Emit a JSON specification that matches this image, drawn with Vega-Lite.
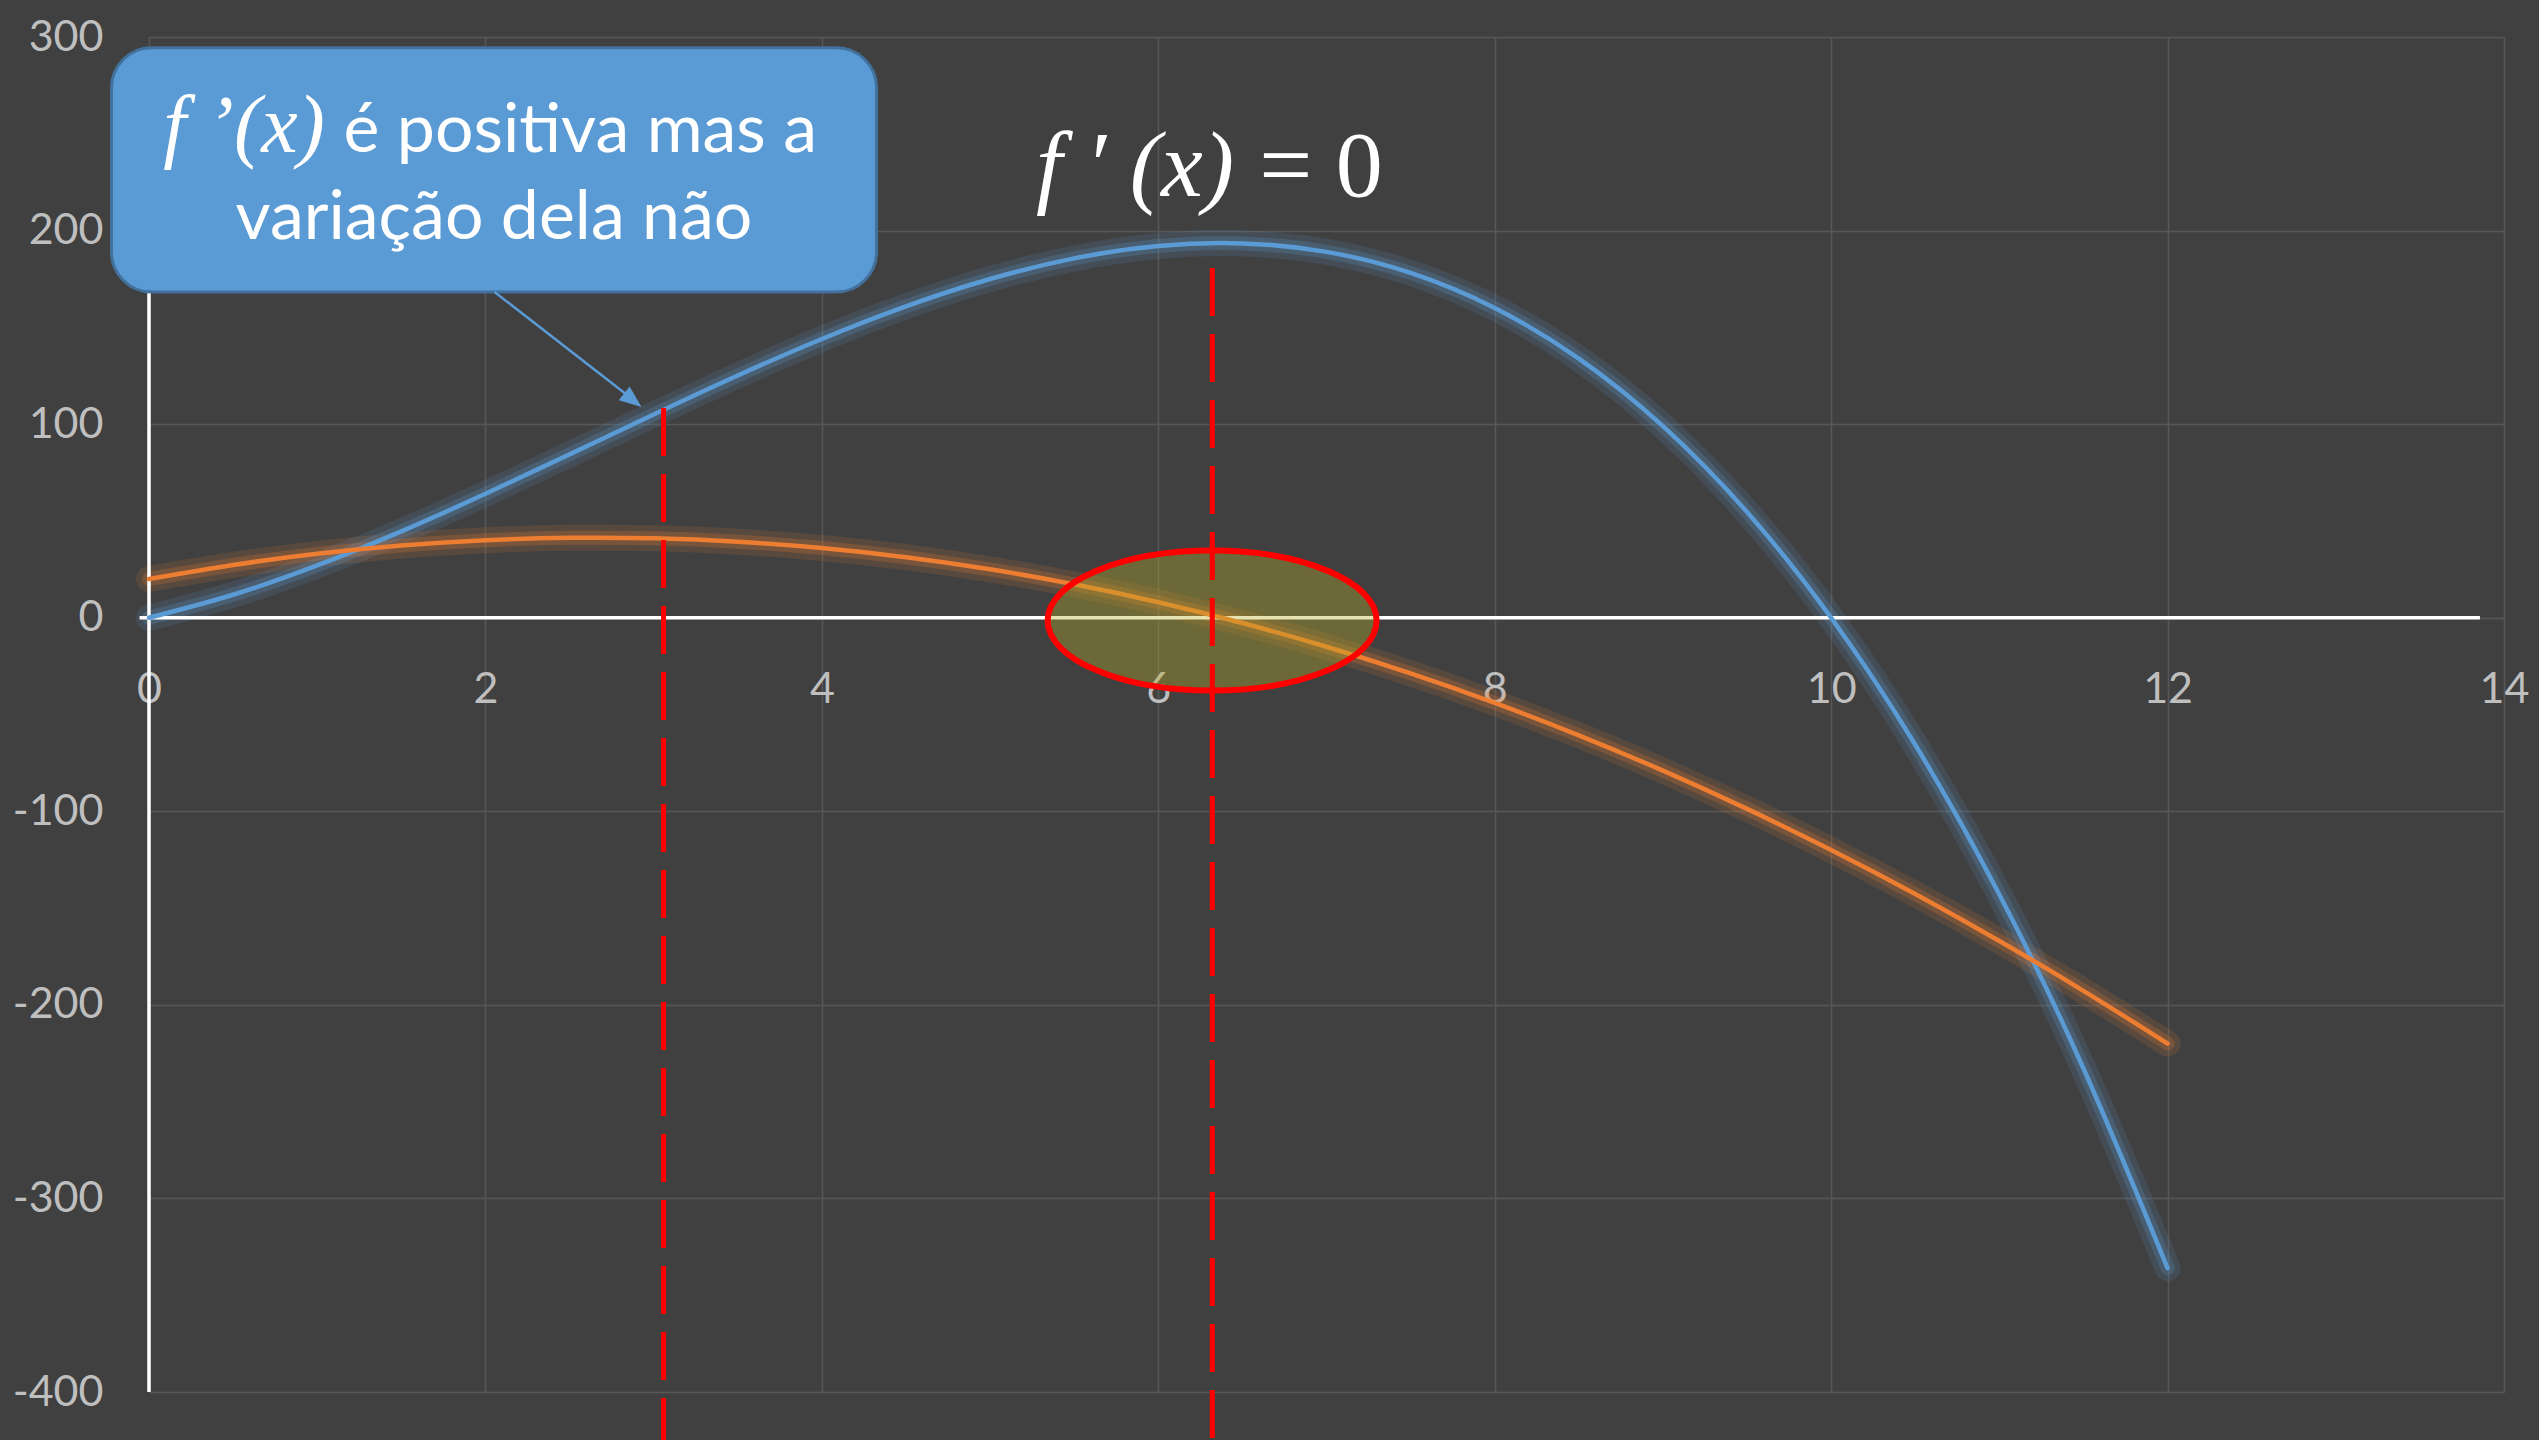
{
  "$schema": "https://vega.github.io/schema/vega-lite/v6.json",
  "width": 2355,
  "height": 1355,
  "autosize": {"type": "none"},
  "padding": {"left": 149, "top": 37, "right": 35, "bottom": 48},
  "background": "#404040",
  "config": {"view": {"stroke": null}, "font": "Lato"},
  "datasets": {
    "curves": [
      {"x": 0, "y": 0, "s": "f"}, {"x": 0.5, "y": 11.875, "s": "f"}, {"x": 1, "y": 27, "s": "f"}, {"x": 1.5, "y": 44.625, "s": "f"},
      {"x": 2, "y": 64, "s": "f"}, {"x": 2.5, "y": 84.375, "s": "f"}, {"x": 3, "y": 105, "s": "f"}, {"x": 3.5, "y": 125.125, "s": "f"},
      {"x": 4, "y": 144, "s": "f"}, {"x": 4.5, "y": 160.875, "s": "f"}, {"x": 5, "y": 175, "s": "f"}, {"x": 5.5, "y": 185.625, "s": "f"},
      {"x": 6, "y": 192, "s": "f"}, {"x": 6.5, "y": 193.375, "s": "f"}, {"x": 7, "y": 189, "s": "f"}, {"x": 7.5, "y": 178.125, "s": "f"},
      {"x": 8, "y": 160, "s": "f"}, {"x": 8.5, "y": 133.875, "s": "f"}, {"x": 9, "y": 99, "s": "f"}, {"x": 9.5, "y": 54.625, "s": "f"},
      {"x": 10, "y": 0, "s": "f"}, {"x": 10.5, "y": -65.625, "s": "f"}, {"x": 11, "y": -143, "s": "f"}, {"x": 11.5, "y": -232.875, "s": "f"},
      {"x": 12, "y": -336, "s": "f"},
      {"x": 0, "y": 20, "s": "df"}, {"x": 0.5, "y": 27.25, "s": "df"}, {"x": 1, "y": 33, "s": "df"}, {"x": 1.5, "y": 37.25, "s": "df"},
      {"x": 2, "y": 40, "s": "df"}, {"x": 2.5, "y": 41.25, "s": "df"}, {"x": 3, "y": 41, "s": "df"}, {"x": 3.5, "y": 39.25, "s": "df"},
      {"x": 4, "y": 36, "s": "df"}, {"x": 4.5, "y": 31.25, "s": "df"}, {"x": 5, "y": 25, "s": "df"}, {"x": 5.5, "y": 17.25, "s": "df"},
      {"x": 6, "y": 8, "s": "df"}, {"x": 6.5, "y": -2.75, "s": "df"}, {"x": 7, "y": -15, "s": "df"}, {"x": 7.5, "y": -28.75, "s": "df"},
      {"x": 8, "y": -44, "s": "df"}, {"x": 8.5, "y": -60.75, "s": "df"}, {"x": 9, "y": -79, "s": "df"}, {"x": 9.5, "y": -98.75, "s": "df"},
      {"x": 10, "y": -120, "s": "df"}, {"x": 10.5, "y": -142.75, "s": "df"}, {"x": 11, "y": -167, "s": "df"}, {"x": 11.5, "y": -192.75, "s": "df"},
      {"x": 12, "y": -220, "s": "df"}
    ]
  },
  "encoding": {
    "x": {
      "field": "x", "type": "quantitative",
      "scale": {"domain": [0, 14], "nice": false, "zero": false},
      "axis": {
        "values": [0, 2, 4, 6, 8, 10, 12, 14], "title": null, "offset": -774,
        "domain": false, "ticks": false, "labelPadding": 50, "labelFontSize": 43,
        "labelColor": "#bfbfbf", "labelFont": "Lato", "labelFlush": false, "labelOverlap": false,
        "labelExpr": "'' + datum.value",
        "gridColor": "#575757", "gridWidth": 1.5
      }
    },
    "y": {
      "field": "y", "type": "quantitative",
      "scale": {"domain": [-400, 300], "nice": false, "zero": false},
      "axis": {
        "values": [-400, -300, -200, -100, 0, 100, 200, 300], "title": null,
        "domain": false, "ticks": false, "labelPadding": 46, "labelFontSize": 43,
        "labelColor": "#bfbfbf", "labelFont": "Lato", "labelFlush": false, "labelOverlap": false,
        "labelExpr": "'' + datum.value",
        "gridColor": "#575757", "gridWidth": 1.5
      }
    }
  },
  "layer": [
    {
      "data": {"name": "curves"},
      "mark": {"type": "line", "interpolate": "natural", "strokeWidth": 26, "opacity": 0.14, "strokeCap": "round"},
      "encoding": {"color": {"field": "s", "type": "nominal", "scale": {"domain": ["f", "df"], "range": ["#5b9bd5", "#ed7d31"]}, "legend": null}}
    },
    {
      "data": {"name": "curves"},
      "mark": {"type": "line", "interpolate": "natural", "strokeWidth": 14, "opacity": 0.22, "strokeCap": "round"},
      "encoding": {"color": {"field": "s", "type": "nominal", "scale": {"domain": ["f", "df"], "range": ["#5b9bd5", "#ed7d31"]}, "legend": null}}
    },
    {
      "data": {"values": [
        {"x": -0.056, "x2": 13.857, "y": 0, "y2": 0},
        {"x": 0, "x2": 0, "y": -400, "y2": 250}
      ]},
      "mark": {"type": "rule", "color": "#ffffff", "strokeWidth": 3.5},
      "encoding": {"x2": {"field": "x2"}, "y2": {"field": "y2"}}
    },
    {
      "data": {"name": "curves"},
      "mark": {"type": "line", "interpolate": "natural", "strokeWidth": 4.5, "strokeCap": "round"},
      "encoding": {"color": {"field": "s", "type": "nominal", "scale": {"domain": ["f", "df"], "range": ["#5b9bd5", "#ed7d31"]}, "legend": null}}
    },
    {
      "data": {"values": [{"x": 6.32, "y": -1.5}]},
      "mark": {
        "type": "point", "shape": "M-1,0A1,0.4255,0,1,0,1,0A1,0.4255,0,1,0,-1,0Z",
        "size": 108241, "filled": true, "fill": "#bbaf26", "fillOpacity": 0.36,
        "stroke": "#ff0000", "strokeWidth": 6, "strokeOpacity": 1, "opacity": 1
      }
    },
    {
      "data": {"values": [
        {"x": 3.059, "y": 108.4, "y2": -430},
        {"x": 6.321, "y": 180.7, "y2": -430}
      ]},
      "mark": {"type": "rule", "color": "#ff0000", "strokeWidth": 5, "strokeDash": [48, 18]},
      "encoding": {"y2": {"field": "y2"}}
    },
    {
      "data": {"values": [{"x": -0.223, "x2": 4.325, "y": 294.4, "y2": 168.3}]},
      "mark": {"type": "rect", "cornerRadius": 40, "fill": "#5b9bd5", "stroke": "#41719c", "strokeWidth": 3},
      "encoding": {"x2": {"field": "x2"}, "y2": {"field": "y2"}}
    },
    {
      "data": {"values": [{"x": 2.054, "y": 168.3, "x2": 2.85, "y2": 114.5}]},
      "mark": {"type": "rule", "color": "#5b9bd5", "strokeWidth": 2.5},
      "encoding": {"x2": {"field": "x2"}, "y2": {"field": "y2"}}
    },
    {
      "data": {"values": [{"x": 2.928, "y": 108.9}]},
      "mark": {
        "type": "point", "shape": "M0,0L-0.4,1L0.4,1Z", "size": 1936, "angle": 128,
        "filled": true, "fill": "#5b9bd5", "strokeWidth": 0, "opacity": 1
      }
    },
    {
      "data": {"values": [{"x": 1.156, "y": 240.7, "t": "é positiva mas a"}]},
      "mark": {"type": "text", "align": "left", "baseline": "alphabetic", "font": "Lato", "fontSize": 68, "color": "#ffffff"},
      "encoding": {"text": {"field": "t"}}
    },
    {
      "data": {"values": [{"x": 2.051, "y": 195.7, "t": "variação dela não"}]},
      "mark": {"type": "text", "align": "center", "baseline": "alphabetic", "font": "Lato", "fontSize": 68, "color": "#ffffff"},
      "encoding": {"text": {"field": "t"}}
    },
    {
      "data": {"values": [{"x": 0.085, "y": 240.7, "t": "f ’(x)"}]},
      "mark": {"type": "text", "align": "left", "baseline": "alphabetic", "font": "Liberation Serif", "fontStyle": "italic", "fontSize": 82, "color": "#ffffff"},
      "encoding": {"text": {"field": "t"}}
    },
    {
      "data": {"values": [{"x": 6.45, "y": 217.9, "t": "f ′ (x)"}]},
      "mark": {"type": "text", "align": "right", "baseline": "alphabetic", "font": "Liberation Serif", "fontStyle": "italic", "fontSize": 94, "color": "#ffffff"},
      "encoding": {"text": {"field": "t"}}
    },
    {
      "data": {"values": [{"x": 6.6, "y": 217.9, "t": "= 0"}]},
      "mark": {"type": "text", "align": "left", "baseline": "alphabetic", "font": "Liberation Serif", "fontSize": 94, "color": "#ffffff"},
      "encoding": {"text": {"field": "t"}}
    }
  ]
}
